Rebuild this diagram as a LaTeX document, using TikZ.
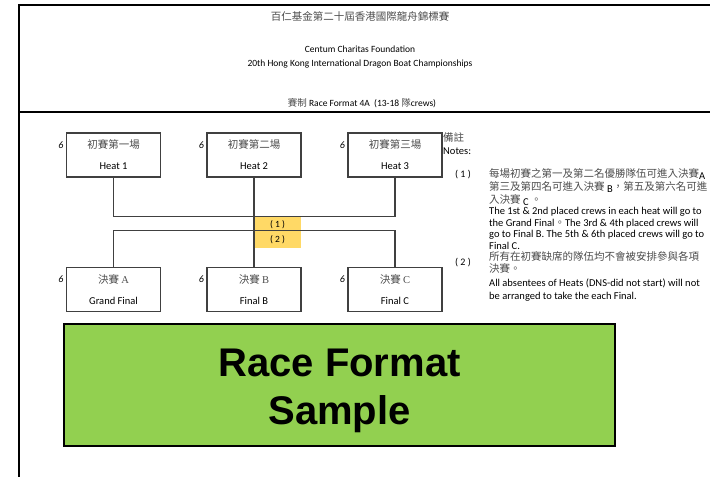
\documentclass[tikz,border=0pt]{standalone}
\usepackage{fontspec}
\setmainfont{Carlito}
\newfontfamily\cjk{Noto Sans CJK TC}
\newfontfamily\arialfont{Liberation Sans}
\newfontfamily\seriffont{Liberation Serif}
\definecolor{boxline}{HTML}{404040}
\definecolor{notegold}{HTML}{FFD966}
\definecolor{samplegreen}{HTML}{92D050}
\newcommand{\zh}[1]{{\cjk\color{black!70}#1}}
\newcommand{\lowtag}[1]{\raisebox{-2pt}{\color{black}#1}}
\begin{document}
\begin{tikzpicture}[x=1pt,y=-1pt,
    racebox/.style={draw=boxline,line width=1.5pt,minimum width=94pt,minimum height=44pt,inner sep=0pt,align=center,font=\fontsize{10.5}{12}\selectfont},
    link/.style={draw=boxline,line width=1.4pt},
    seeds/.style={anchor=east,inner sep=0pt,font=\fontsize{10}{12}\selectfont\itshape},
    tagbox/.style={fill=notegold,minimum width=47pt,minimum height=15.5pt,inner sep=0pt,font=\fontsize{9.5}{11}\selectfont},
    headtext/.style={anchor=base,inner sep=0pt,font=\fontsize{9.5}{11}\selectfont},
    notetext/.style={anchor=base west,inner sep=0pt,font=\fontsize{10.5}{12}\selectfont},
    bigtext/.style={anchor=base,inner sep=0pt,font=\arialfont\bfseries\fontsize{40}{48}\selectfont}]
        \useasboundingbox (0,0) rectangle (710,477);
        \draw[line width=2pt] (19,5)--(710,5); % top rule
        \draw[line width=2.5pt] (19,112)--(710,112); % header rule
        \draw[line width=2.5pt] (19,4)--(19,477); % left rule
        % header
        \node[headtext,font=\fontsize{10.5}{12}\selectfont] (title) at (360,20) {\zh{百仁基金第二十屆香港國際龍舟錦標賽}};
        \node[headtext] (org) at (360,52) {Centum Charitas Foundation};
        \node[headtext] (event) at (360,66) {20th Hong Kong International Dragon Boat Championships};
        \node[headtext] (format) at (362,106) {\zh{賽制} Race Format 4A\ \ (13-18 \zh{隊}crews)};
        % note tags
        \node[tagbox] (t1) at (277.5,224.5) {(\ 1\ )};
        \node[tagbox] (t2) at (277.5,240) {(\ 2\ )};
        % heats
        \foreach \i/\x/\n in {1/113.5/一,2/254/二,3/395/三}{
            \node[racebox] (h\i) at (\x,155) {\zh{初賽第\n 場}\\[9pt]Heat \i};
            \node[seeds] (sh\i) at ([xshift=-2pt,yshift=10pt]h\i.west) {6};
        }
        % finals
        \foreach \i/\x/\l/\e in {a/113.5/A/Grand Final,b/254/B/Final B,c/395/C/Final C}{
            \node[racebox] (f\i) at (\x,289.5) {\zh{決賽 {\seriffont\l}}\\[9pt]\e};
            \node[seeds] (sf\i) at ([xshift=-2pt,yshift=10pt]f\i.west) {6};
        }
        \draw[link] (h1.south) --++(0,39) -| (h3.south);
        \draw[link] (h2.south) -- (fb.north);
        \draw[link] (fa.north) --++(0,-36) -| (fc.north);
        % notes
        \node[notetext] (nzh) at (443,141.5) {\zh{備註}};
        \node[notetext] (nen) at (443,154.5) {Notes:};
        \node[notetext,font=\fontsize{10}{12}\selectfont] (n1) at (455,177) {(\ 1\ )};
        \node[notetext] (n1a) at (489,177) {\zh{每場初賽之第一及第二名優勝隊伍可進入決賽}\lowtag{A}};
        \node[notetext] (n1b) at (489,190) {\zh{第三及第四名可進入決賽} \lowtag{B}\zh{，第五及第六名可進}};
        \node[notetext] (n1c) at (489,203) {\zh{入決賽} \lowtag{C} \zh{。}};
        \node[notetext] (n1d) at (489,214.5) {The 1st \& 2nd placed crews in each heat will go to};
        \node[notetext] (n1e) at (489,226) {the Grand Final\zh{。}The 3rd \& 4th placed crews will};
        \node[notetext] (n1f) at (489,237.5) {go to Final B. The 5th \& 6th placed crews will go to};
        \node[notetext] (n1g) at (489,249) {Final C.};
        \node[notetext,font=\fontsize{10}{12}\selectfont] (n2) at (455,265.5) {(\ 2\ )};
        \node[notetext] (n2a) at (489,260) {\zh{所有在初賽缺席的隊伍均不會被安排參與各項}};
        \node[notetext] (n2b) at (489,272) {\zh{決賽。}};
        \node[notetext] (n2c) at (489,286.5) {All absentees of Heats (DNS-did not start) will not};
        \node[notetext] (n2d) at (489,299.5) {be arranged to take the each Final.};
        % sample stamp
        \node[draw,line width=2pt,fill=samplegreen,minimum width=551pt,minimum height=122pt] (stamp) at (339.5,385) {};
        \node[bigtext] (s1) at (339.5,376) {Race Format};
        \node[bigtext] (s2) at (339.5,424) {Sample};
\end{tikzpicture}
\end{document}
